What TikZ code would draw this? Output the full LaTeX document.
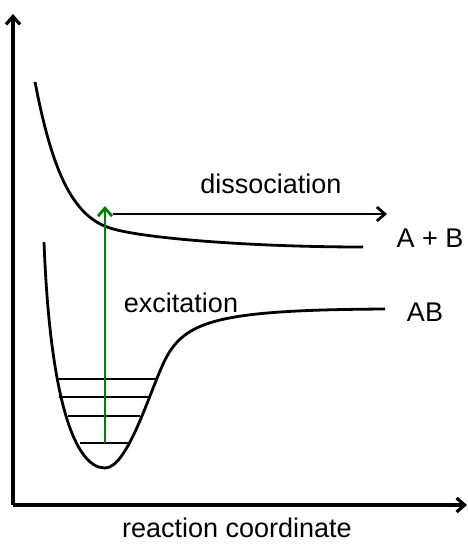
\documentclass[tikz,border=0pt]{standalone}
\usepackage{fontspec}
\setmainfont{Liberation Sans}
\usepackage{tikz}
\usetikzlibrary{arrows.meta}

\tikzset{
    arr/.style={-{Straight Barb[length=8pt,width=14pt]}},
    curve/.style={line width=2.8pt},
    level/.style={line width=2.8pt},
    label/.style={anchor=base, font=\fontsize{27}{31}\selectfont, inner sep=0pt}
}

\begin{document}
\begin{tikzpicture}[x=1pt, y=-1pt]

    \useasboundingbox (0,0) rectangle (468,544);

    % Axes
    \coordinate (origin) at (13,505);
    \coordinate (ytop) at (13,14);
    \coordinate (xend) at (467,505);
    \draw[arr, line width=3.2pt] (origin) -- (ytop);
    \draw[arr, line width=3.2pt] (origin) -- (xend);
    \node[label] (xlabel) at (237,537) {reaction coordinate};

    % Upper curve (A + B)
    \draw[curve] (35,82) .. controls (52,170) and (72,216) .. (110,228)
        .. controls (140,238) and (250,247) .. (363,247);
    \node[label] (ab2) at (430,247) {A + B};

    % Lower curve (AB)
    \draw[curve] (44,242) .. controls (50,400) and (75,468) .. (105,468)
        .. controls (128,468) and (150,390) .. (165,360)
        .. controls (185,320) and (220,310) .. (385,309);
    \node[label] (ab) at (425,321) {AB};

    % Vibrational levels
    \draw[level] (58,379) -- (158,379);
    \draw[level] (59,397) -- (149,397);
    \draw[level] (68,416) -- (140,416);
    \draw[level] (80,443) -- (131,443);

    % Excitation
    \coordinate (ground) at (105,443);
    \coordinate (excited) at (105,206);
    \draw[arr, line width=2.8pt, green!50!black] (ground) -- (excited);
    \node[label] (exc) at (181,312) {excitation};

    % Dissociation
    \coordinate (dstart) at (113,214);
    \coordinate (dend) at (387,214);
    \draw[arr, line width=2.8pt] (dstart) -- (dend);
    \node[label] (diss) at (271,193) {dissociation};

\end{tikzpicture}
\end{document}
